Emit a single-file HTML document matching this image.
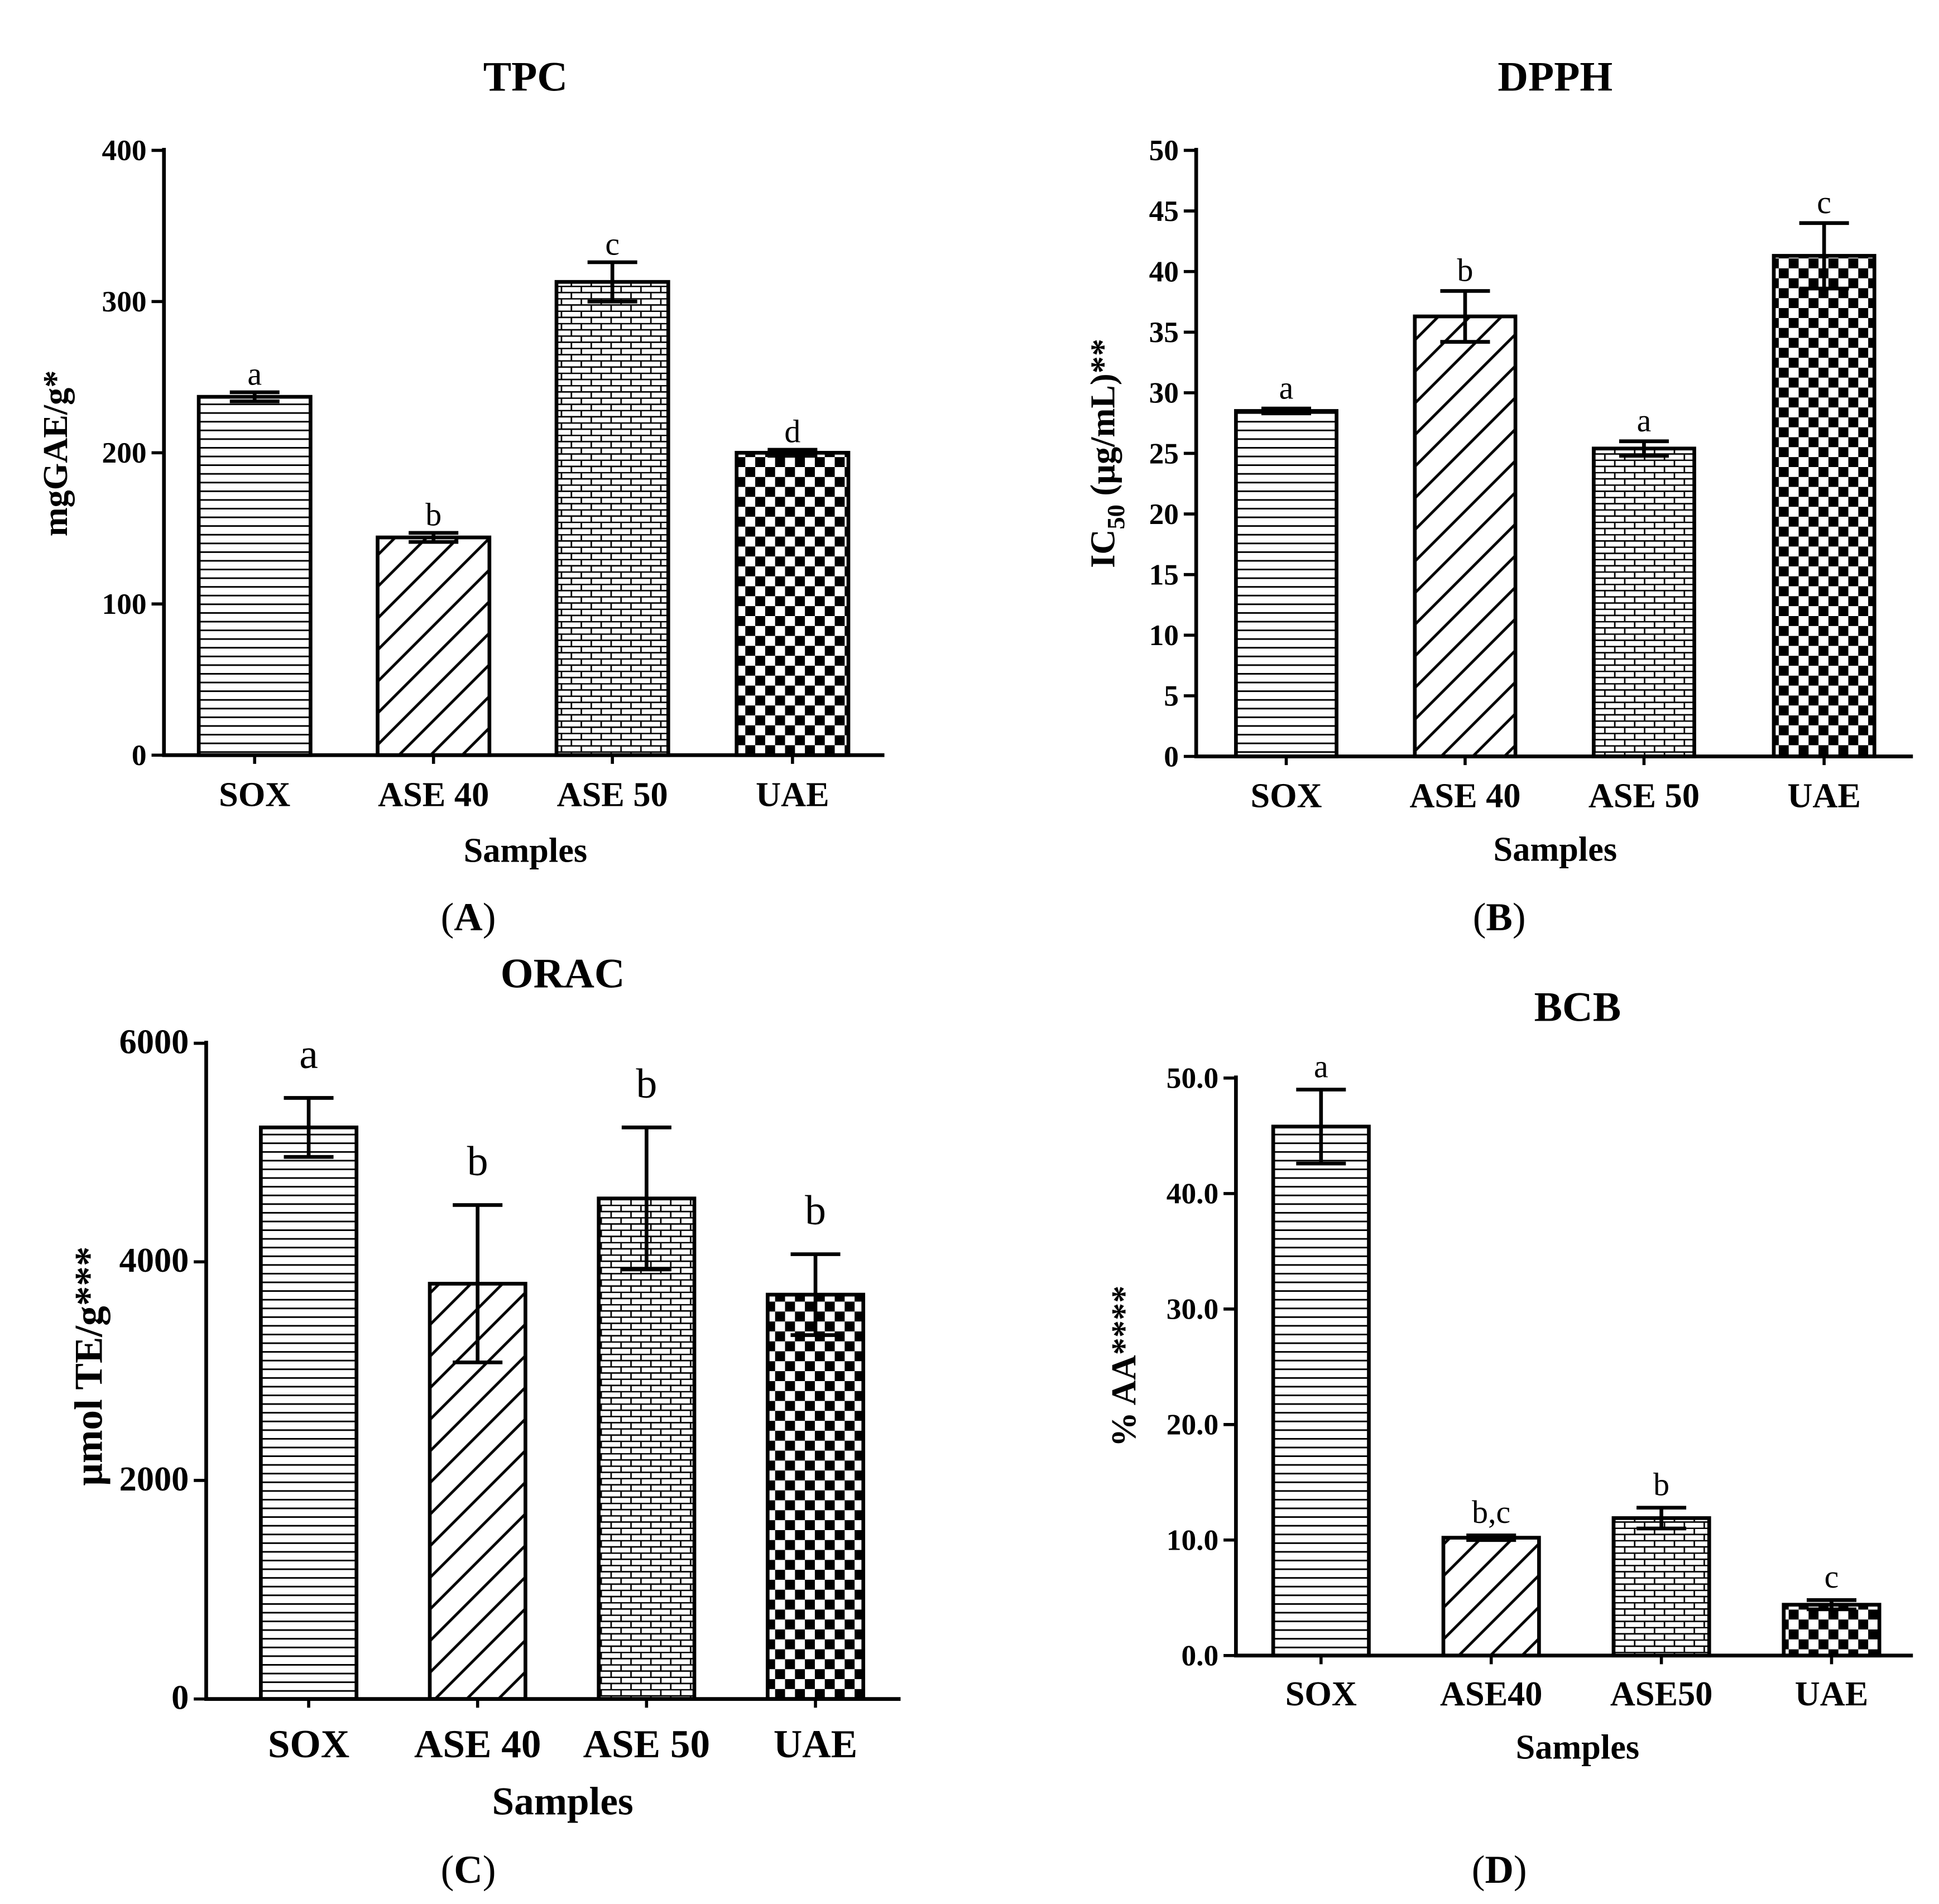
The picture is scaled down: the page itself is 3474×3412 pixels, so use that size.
<!DOCTYPE html>
<html><head><meta charset="utf-8"><style>html,body{margin:0;padding:0;background:#fff}svg{display:block}</style></head>
<body>
<svg id="fig" xmlns="http://www.w3.org/2000/svg" width="3474" height="3412" viewBox="0 0 1561 1533" font-family="Liberation Serif, serif">
<defs>
<pattern id="pH" patternUnits="userSpaceOnUse" width="10" height="7"><rect width="10" height="7" fill="#fff"/><line x1="0" y1="3.5" x2="10" y2="3.5" stroke="#000" stroke-width="1.3"/></pattern>
<pattern id="pD" patternUnits="userSpaceOnUse" width="18" height="18" patternTransform="rotate(45)"><rect width="18" height="18" fill="#fff"/><line x1="9" y1="0" x2="9" y2="18" stroke="#000" stroke-width="2.2"/></pattern>
<pattern id="pB" patternUnits="userSpaceOnUse" width="16" height="10"><rect width="16" height="10" fill="#fff"/><path d="M0 0.5H16M0 5.5H16M4 0V5M12 5V10" stroke="#000" stroke-width="1.2" fill="none"/></pattern>
<pattern id="pC" patternUnits="userSpaceOnUse" width="16" height="16"><rect width="16" height="16" fill="#fff"/><rect width="8" height="8" fill="#000"/><rect x="8" y="8" width="8" height="8" fill="#000"/></pattern>
</defs>
<g id="root"></g>
</svg>
<script>
const categoriesA = ["SOX","ASE 40","ASE 50","UAE"];
const valuesA = [237,144,313,200];
const errorsA = [3,3,13,2];
const lettersA = ["a","b","c","d"];
const ticksA = [0,100,200,300,400];

const categoriesB = ["SOX","ASE 40","ASE 50","UAE"];
const valuesB = [28.5,36.3,25.4,41.3];
const errorsB = [0.2,2.1,0.6,2.7];
const lettersB = ["a","b","a","c"];
const ticksB = [0,5,10,15,20,25,30,35,40,45,50];

const categoriesC = ["SOX","ASE 40","ASE 50","UAE"];
const valuesC = [5230,3800,4580,3700];
const errorsC = [270,720,650,370];
const lettersC = ["a","b","b","b"];
const ticksC = [0,2000,4000,6000];

const categoriesD = ["SOX","ASE40","ASE50","UAE"];
const valuesD = [45.8,10.2,11.9,4.4];
const errorsD = [3.2,0.2,0.9,0.4];
const lettersD = ["a","b,c","b","c"];
const ticksD = ["0.0","10.0","20.0","30.0","40.0","50.0"];

const NS="http://www.w3.org/2000/svg";
const root=document.getElementById('root');
function el(tag,attrs,parent,text){const e=document.createElementNS(NS,tag);for(const k in attrs)e.setAttribute(k,attrs[k]);if(text!==undefined)e.textContent=text;(parent||root).appendChild(e);return e;}
const pats=["url(#pH)","url(#pD)","url(#pB)","url(#pC)"];

function panel(o){
  const g=el('g',{});
  
  
  const y=v=>o.y0-(v-o.min)/(o.max-o.min)*(o.y0-o.y1);
  // bars
  o.cats.forEach((c,i)=>{
    const bx=o.bx[i];
    const r=el('rect',{x:bx,y:y(o.vals[i]),width:o.bw,height:o.y0-y(o.vals[i]),fill:pats[i],stroke:'#000','stroke-width':3},g);
    
    
    const cx=bx+o.bw/2, t=y(o.vals[i]+o.errs[i]), b=y(o.vals[i]-o.errs[i]);
    const eb=el('path',{d:`M${cx} ${t}V${b}M${cx-20} ${t}H${cx+20}M${cx-20} ${b}H${cx+20}`,stroke:'#000','stroke-width':3,fill:'none'},g);
    
    
    const lt=el('text',{x:cx,y:t-o.lgap,'text-anchor':'middle','font-size':o.lfs},g,o.letters[i]);
    
    
    const xl=el('text',{x:cx,y:o.y0+o.xlOff,'text-anchor':'middle','font-size':o.xfs,'font-weight':'bold'},g,c);
    
    
    el('line',{x1:cx,x2:cx,y1:o.y0,y2:o.y0+7,stroke:'#000','stroke-width':2.5},g);
  });
  // axes
  const ax=el('path',{d:`M${o.ax} ${o.y1-2}V${o.y0}H${o.axEnd}`,stroke:'#000','stroke-width':3,fill:'none'},g);
  
  
  o.ticks.forEach(t=>{
    const v=parseFloat(t), yy=y(v);
    el('line',{x1:o.ax-10,x2:o.ax,y1:yy,y2:yy,stroke:'#000','stroke-width':2.5},g);
    const tl=el('text',{x:o.ax-14,y:yy+8,'text-anchor':'end','font-size':o.tfs,'font-weight':'bold'},g,String(t));
    
    
  });
  const ti=el('text',{x:o.tx,y:o.ty,'text-anchor':'middle','font-size':34,'font-weight':'bold'},g,o.title);
  
  
  const xt=el('text',{x:o.tx,y:o.sy,'text-anchor':'middle','font-size':o.xfs,'font-weight':'bold'},g,'Samples');
  
  
  const yt=el('text',{x:o.ylx,y:o.yly,'text-anchor':'middle','font-size':o.yfs,'font-weight':'bold',transform:`rotate(-90 ${o.ylx} ${o.yly})`},g);
  
  
  yt.innerHTML=o.ylab;
  const pl=el('text',{x:o.px,y:o.py,'text-anchor':'middle','font-size':32},g);
  
  
  pl.innerHTML='(<tspan font-weight="bold">'+o.plab+'</tspan>)';
}
panel({id:'tpc',cats:categoriesA,vals:valuesA,errs:errorsA,letters:lettersA,ticks:ticksA,min:0,max:400,y0:608,y1:121,ax:132,axEnd:712,bx:[160,304,448,593],bw:90,lgap:6,lfs:26,xfs:28,tfs:24,xlOff:41,title:'TPC',tx:423,ty:73,sy:694,ylab:'mgGAE/g*',ylx:54,yly:365,yfs:28,px:377,py:749,plab:'A'});
panel({id:'dpph',cats:categoriesB,vals:valuesB,errs:errorsB,letters:lettersB,ticks:ticksB,min:0,max:50,y0:609,y1:121,ax:963,axEnd:1540,bx:[995,1139,1283,1428],bw:81,lgap:8,lfs:26,xfs:28,tfs:24,xlOff:41,title:'DPPH',tx:1252,ty:73,sy:693,ylab:'IC<tspan font-size="20" dy="8">50</tspan><tspan dy="-8"> (µg/mL)**</tspan>',ylx:897,yly:365,yfs:28,px:1207,py:749,plab:'B'});
panel({id:'orac',cats:categoriesC,vals:valuesC,errs:errorsC,letters:lettersC,ticks:ticksC,min:0,max:6000,y0:1368,y1:840,ax:166,axEnd:725,bx:[210,346,482,618],bw:77,lgap:24,lfs:34,xfs:32,tfs:28,xlOff:47,title:'ORAC',tx:453,ty:795,sy:1461,ylab:'µmol TE/g***',ylx:82,yly:1100,yfs:32,px:377,py:1516,plab:'C'});
panel({id:'bcb',cats:categoriesD,vals:valuesD,errs:errorsD,letters:lettersD,ticks:ticksD,min:0,max:50,y0:1333,y1:868,ax:995,axEnd:1540,bx:[1025,1162,1299,1436],bw:77,lgap:10,lfs:26,xfs:28,tfs:24,xlOff:40,title:'BCB',tx:1270,ty:822,sy:1416,ylab:'% AA****',ylx:914,yly:1100,yfs:28,px:1207,py:1516,plab:'D'});
</script>
</body></html>
